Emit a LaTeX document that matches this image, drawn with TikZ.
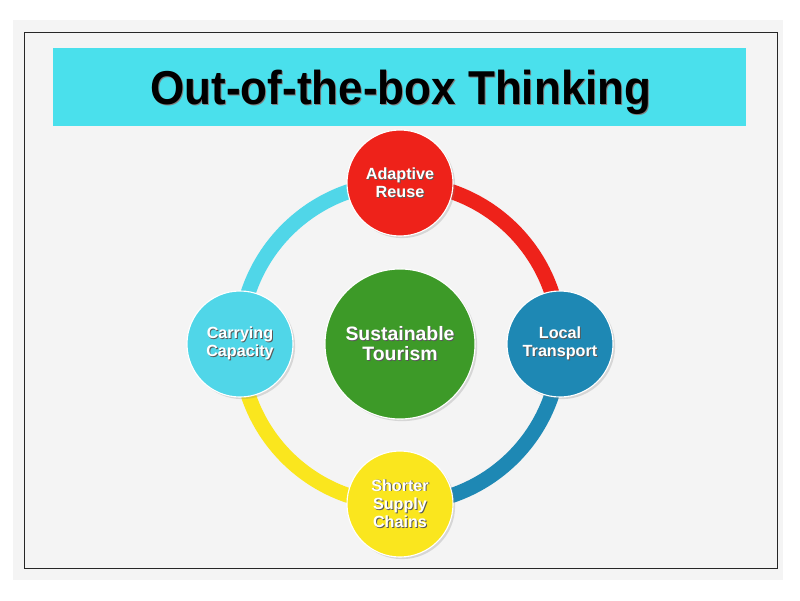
\documentclass[tikz,border=0pt]{standalone}
\usepackage{fontspec}
\setmainfont{Liberation Sans}
\usetikzlibrary{shadows,backgrounds}

\definecolor{bannercyan}{RGB}{74,224,236}
\definecolor{ringcyan}{RGB}{80,214,232}
\definecolor{ringred}{RGB}{238,34,26}
\definecolor{ringblue}{RGB}{30,136,180}
\definecolor{ringyellow}{RGB}{250,230,30}
\definecolor{hubgreen}{RGB}{61,154,40}
\definecolor{pagegray}{RGB}{244,244,244}

\newcommand{\dropshade}[2][black!65]{\leavevmode\rlap{\kern0.7pt\raisebox{-0.7pt}{\color{#1}#2}}#2}

\tikzset{
  spoke/.style={circle, draw=white, line width=0.8pt, minimum size=2.65cm,
    inner sep=0pt, align=center, text=white,
    font=\fontsize{11.5}{13}\selectfont\bfseries,
    drop shadow={opacity=0.25, shadow xshift=1.5pt, shadow yshift=-1.5pt}},
  ringarc/.style={line width=0.375cm, bend left=45}
}

\begin{document}
\begin{tikzpicture}[x=0.025cm, y=0.025cm]
  \useasboundingbox (0,0) rectangle (800,600);
  % page and frame
  \begin{scope}[on background layer]
    \fill[white] (0,0) rectangle (800,600);
    \fill[pagegray] (13,20) rectangle (783,580);
    \draw[black!85, line width=0.7pt] (24,32) rectangle (777,568);
    \fill[bannercyan] (53,474) rectangle (746,552);
  \end{scope}
  \node[font=\fontsize{31.3}{34}\selectfont\bfseries, yscale=1.08] (title) at (401,507)
    {\dropshade[black!50]{Out-of-the-box Thinking}};

  % hub and spokes
  \node[spoke, fill=hubgreen, minimum size=3.75cm,
    font=\fontsize{13.8}{14}\selectfont\bfseries] (hub) at (400,256)
    {\dropshade{Sustainable}\\\dropshade{Tourism}};
  \node[spoke, fill=ringred] (reuse) at (400,417)
    {\dropshade{Adaptive}\\\dropshade{Reuse}};
  \node[spoke, fill=ringblue] (transport) at (560,256)
    {\dropshade{Local}\\\dropshade{Transport}};
  \node[spoke, fill=ringyellow] (supply) at (400,96)
    {\dropshade{Shorter}\\\dropshade{Supply}\\\dropshade{Chains}};
  \node[spoke, fill=ringcyan] (capacity) at (240,256)
    {\dropshade{Carrying}\\\dropshade{Capacity}};

  % ring behind the circles
  \begin{scope}[on background layer]
    \draw[ringarc, ringred] (reuse.center) to (transport.center);
    \draw[ringarc, ringblue] (transport.center) to (supply.center);
    \draw[ringarc, ringyellow] (supply.center) to (capacity.center);
    \draw[ringarc, ringcyan] (capacity.center) to (reuse.center);
  \end{scope}
\end{tikzpicture}
\end{document}
